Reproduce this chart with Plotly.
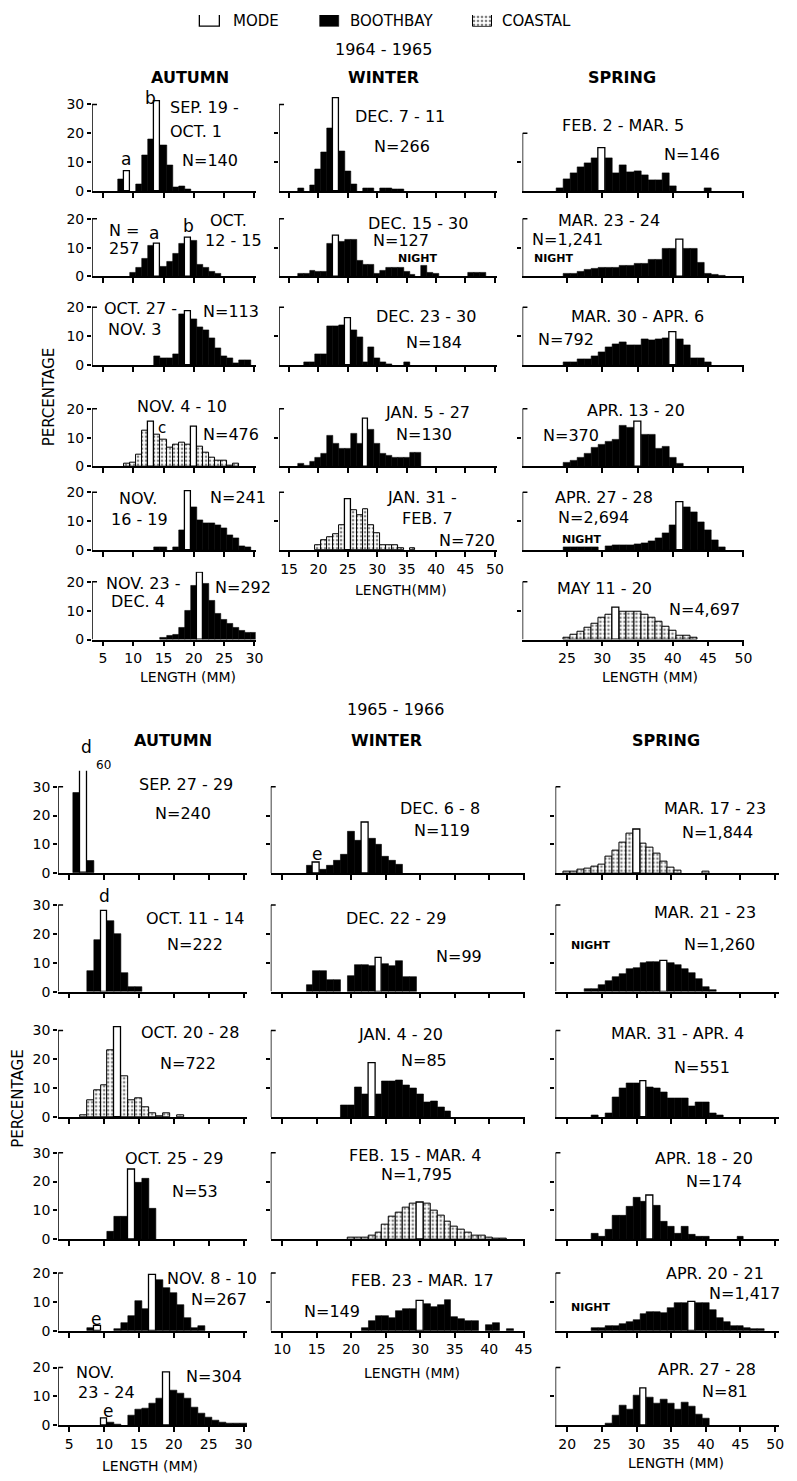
import plotly.graph_objects as go

W, H = 797, 1481
FONT = "DejaVu Sans"
PPP = 2.9  # pixels per percent

# ---------------- DATA (length class in mm, percentage) ----------------
# 1964-1965 autumn
A1_BINS = [8, 9, 11, 12, 13, 14, 15, 16, 17, 18, 19]
A1_PCT = [4.0, 6.8, 2.3, 12.5, 17.8, 31.0, 15.9, 8.9, 1.1, 1.5, 0.6]
A1_MODE = [9, 14]
A2_BINS = [10, 11, 12, 13, 14, 15, 16, 17, 18, 19, 20, 21, 22, 23, 24]
A2_PCT = [1.4, 3.0, 6.0, 10.8, 11.5, 3.5, 5.0, 8.0, 11.5, 13.5, 12.5, 4.0, 3.0, 1.7, 0.8]
A2_MODE = [14, 19]
A3_BINS = [14, 15, 16, 17, 18, 19, 20, 21, 22, 23, 24, 25, 26, 27, 28, 29]
A3_PCT = [3.0, 2.5, 2.5, 3.8, 17.6, 18.8, 15.9, 13.0, 12.0, 9.4, 5.9, 3.0, 2.5, 0.5, 1.8, 1.5]
A3_MODE = [19]
A4_BINS = [9, 10, 11, 12, 13, 14, 15, 16, 17, 18, 19, 20, 21, 22, 23, 24, 25, 26, 27]
A4_PCT = [0.8, 1.4, 4.2, 12.3, 15.5, 11.0, 9.3, 6.4, 7.6, 8.1, 7.6, 13.8, 7.0, 4.7, 3.0, 1.9, 1.9, 0.3, 1.0]
A4_MODE = [13, 20]
A5_BINS = [14, 15, 17, 18, 19, 20, 21, 22, 23, 24, 25, 26, 27, 28, 29]
A5_PCT = [0.8, 0.8, 1.0, 6.9, 20.5, 14.9, 10.3, 9.4, 9.4, 8.5, 7.5, 5.0, 4.0, 1.2, 0.8]
A5_MODE = [19]
A6_BINS = [15, 16, 17, 18, 19, 20, 21, 22, 23, 24, 25, 26, 27, 28, 29, 30]
A6_PCT = [0.5, 1.2, 1.5, 4.0, 10.0, 18.8, 23.0, 19.4, 13.3, 9.0, 7.0, 5.5, 4.0, 3.0, 2.5, 2.5]
A6_MODE = [21]
# 1964-1965 winter
W1_BINS = [17, 19, 20, 21, 22, 23, 24, 25, 26, 28, 29, 31, 32, 33, 34]
W1_PCT = [0.8, 1.9, 7.4, 13.4, 21.7, 32.0, 13.6, 6.8, 2.2, 0.8, 0.8, 0.8, 0.8, 0.4, 0.4]
W1_MODE = [23]
W2_BINS = [17, 18, 19, 20, 21, 22, 23, 24, 25, 26, 27, 28, 29, 30, 31, 32, 33, 34, 35, 36, 38, 39, 40, 46, 47, 48]
W2_PCT = [1.0, 1.0, 2.1, 1.6, 1.6, 11.3, 14.3, 12.2, 12.7, 12.7, 5.3, 4.2, 4.2, 1.0, 2.1, 3.2, 3.2, 3.2, 1.6, 0.7, 3.7, 1.4, 1.0, 1.3, 1.3, 1.3]
W2_MODE = [23]
W3_BINS = [18, 19, 20, 21, 22, 23, 24, 25, 26, 27, 28, 29, 30, 31, 32, 35]
W3_PCT = [1.1, 1.1, 3.9, 3.9, 13.6, 13.6, 13.9, 16.1, 12.2, 9.8, 1.1, 6.1, 2.2, 1.1, 0.3, 0.8]
W3_MODE = [25]
W4_BINS = [17, 18, 19, 20, 21, 22, 23, 24, 25, 26, 27, 28, 29, 30, 31, 32, 33, 34, 35, 36, 37]
W4_PCT = [1.1, 0.3, 1.7, 3.0, 4.4, 10.6, 8.0, 6.1, 6.1, 11.3, 7.8, 16.7, 12.8, 7.8, 4.5, 3.9, 3.1, 3.1, 3.1, 4.7, 4.7]
W4_MODE = [28]
W5_BINS = [20, 21, 22, 23, 24, 25, 26, 27, 28, 29, 30, 31, 32, 33, 34, 36]
W5_PCT = [1.7, 3.5, 4.6, 5.5, 8.6, 17.7, 13.7, 12.0, 14.3, 8.6, 5.7, 1.7, 1.7, 1.7, 0.6, 0.6]
W5_MODE = [25]
# 1964-1965 spring
S1_BINS = [24, 25, 26, 27, 28, 29, 30, 31, 32, 33, 34, 35, 36, 37, 38, 39, 40, 45]
S1_PCT = [0.8, 4.2, 6.3, 8.3, 9.7, 11.4, 14.9, 11.4, 6.3, 8.9, 6.5, 6.9, 5.4, 3.7, 3.7, 6.1, 1.5, 1.1]
S1_MODE = [30]
S2_BINS = [25, 26, 27, 28, 29, 30, 31, 32, 33, 34, 35, 36, 37, 38, 39, 40, 41, 42, 43, 44, 45, 46, 47]
S2_PCT = [0.8, 1.1, 1.6, 2.4, 2.7, 3.0, 3.0, 3.2, 3.6, 3.8, 4.3, 4.5, 5.9, 5.9, 9.7, 9.7, 12.7, 9.7, 9.7, 4.9, 1.1, 0.5, 0.3]
S2_MODE = [41]
S3_BINS = [25, 26, 27, 28, 29, 30, 31, 32, 33, 34, 35, 36, 37, 38, 39, 40, 41, 42, 43, 44, 45]
S3_PCT = [0.9, 0.9, 2.0, 2.0, 3.2, 4.5, 6.3, 7.2, 7.8, 7.0, 6.9, 9.1, 8.6, 8.8, 9.4, 11.2, 9.1, 6.9, 2.3, 2.3, 1.1]
S3_MODE = [40]
S4_BINS = [25, 26, 27, 28, 29, 30, 31, 32, 33, 34, 35, 36, 37, 38, 39, 40, 41]
S4_PCT = [1.2, 2.0, 3.2, 4.3, 6.6, 7.5, 8.5, 9.2, 14.2, 13.6, 15.7, 10.9, 10.9, 6.0, 7.0, 2.9, 0.8]
S4_MODE = [35]
S5_BINS = [25, 26, 27, 28, 29, 31, 32, 33, 34, 35, 36, 37, 38, 39, 40, 41, 42, 43, 44, 45, 46, 47]
S5_PCT = [0.8, 0.8, 0.8, 0.8, 0.8, 1.2, 1.5, 1.7, 1.8, 2.0, 2.3, 3.2, 4.0, 5.7, 8.6, 16.6, 14.9, 13.1, 9.7, 6.9, 3.4, 0.8]
S5_MODE = [41]
S6_BINS = [25, 26, 27, 28, 29, 30, 31, 32, 33, 34, 35, 36, 37, 38, 39, 40, 41, 42, 43]
S6_PCT = [0.6, 1.5, 2.7, 4.2, 5.5, 7.5, 8.7, 10.9, 9.5, 9.7, 9.7, 8.5, 7.5, 6.1, 4.6, 3.0, 1.2, 1.2, 0.5]
S6_MODE = [32]
# 1965-1966 autumn
BA1_BINS = [6, 7, 8]
BA1_PCT = [28.0, 60.0, 4.3]
BA1_MODE = [7]
BA2_BINS = [8, 9, 10, 11, 12, 13, 14, 15]
BA2_PCT = [7.0, 18.0, 28.0, 24.5, 20.0, 6.5, 1.5, 1.5]
BA2_MODE = [10]
BA3_BINS = [7, 8, 9, 10, 11, 12, 13, 14, 15, 16, 17, 18, 19, 21]
BA3_PCT = [0.6, 5.9, 9.4, 11.0, 23.0, 31.0, 14.1, 5.9, 6.5, 3.5, 1.4, 0.3, 1.2, 0.6]
BA3_MODE = [12]
BA4_BINS = [11, 12, 13, 14, 15, 16, 17]
BA4_PCT = [2.5, 7.9, 7.9, 24.0, 19.5, 21.0, 10.5]
BA4_MODE = [14]
BA5_BINS = [8, 9, 12, 13, 14, 15, 16, 17, 18, 19, 20, 21, 22, 23, 24]
BA5_PCT = [0.8, 1.7, 0.6, 2.6, 5.1, 10.3, 7.4, 19.4, 17.7, 15.0, 13.1, 9.1, 4.6, 1.1, 1.5]
BA5_MODE = [9, 17]
BA6_BINS = [10, 11, 12, 14, 15, 16, 17, 18, 19, 20, 21, 22, 23, 24, 25, 26, 27, 28, 29, 30]
BA6_PCT = [2.2, 0.8, 0.4, 3.3, 5.3, 5.8, 7.6, 9.4, 18.3, 12.0, 10.9, 9.4, 6.1, 4.1, 2.8, 1.7, 0.9, 0.6, 0.6, 0.6]
BA6_MODE = [10, 19]
# 1965-1966 winter
BW1_BINS = [14, 15, 16, 17, 18, 19, 20, 21, 22, 23, 24, 25, 26, 27]
BW1_PCT = [2.5, 3.6, 1.4, 2.5, 4.5, 6.3, 14.5, 11.2, 17.4, 12.0, 9.8, 5.8, 4.4, 3.1]
BW1_MODE = [15, 22]
BW2_BINS = [14, 15, 16, 17, 18, 20, 21, 22, 23, 24, 25, 26, 27, 28, 29]
BW2_PCT = [2.4, 7.1, 7.1, 3.9, 3.9, 5.3, 9.2, 9.2, 8.8, 11.7, 9.6, 8.8, 10.6, 5.0, 5.0]
BW2_MODE = [24]
BW3_BINS = [19, 20, 21, 22, 23, 24, 25, 26, 27, 28, 29, 30, 31, 32, 33, 34]
BW3_PCT = [4.2, 4.2, 10.3, 8.0, 18.7, 8.0, 12.4, 12.4, 12.8, 10.9, 10.0, 7.7, 5.2, 5.5, 3.4, 1.8]
BW3_MODE = [23]
BW4_BINS = [20, 21, 22, 23, 24, 25, 26, 27, 28, 29, 30, 31, 32, 33, 34, 35, 36, 37, 38, 39, 40, 41, 42]
BW4_PCT = [0.4, 0.5, 0.6, 1.1, 2.2, 5.1, 7.9, 9.4, 11.1, 12.2, 12.8, 12.2, 10.0, 8.3, 6.0, 4.3, 3.2, 2.3, 1.1, 1.1, 0.6, 0.3, 0.3]
BW4_MODE = [30]
BW5_BINS = [22, 23, 24, 25, 26, 27, 28, 29, 30, 31, 32, 33, 34, 35, 36, 37, 38, 40, 41, 43]
BW5_PCT = [1.1, 3.5, 5.0, 5.0, 4.4, 7.0, 7.6, 7.6, 10.4, 9.2, 8.2, 8.8, 10.6, 4.7, 4.1, 3.5, 3.5, 2.1, 2.6, 0.6]
BW5_MODE = [30]
# 1965-1966 spring
BS1_BINS = [20, 21, 22, 23, 24, 25, 26, 27, 28, 29, 30, 31, 32, 33, 34, 35, 36, 40]
BS1_PCT = [0.6, 0.6, 1.1, 1.7, 2.2, 3.0, 5.6, 7.8, 10.6, 13.9, 15.2, 10.3, 8.9, 6.7, 3.9, 1.9, 0.8, 0.6]
BS1_MODE = [30]
BS2_BINS = [23, 24, 25, 26, 27, 28, 29, 30, 31, 32, 33, 34, 35, 36, 37, 38, 39, 40, 41]
BS2_PCT = [0.9, 0.9, 2.2, 3.6, 5.0, 6.1, 7.8, 8.3, 10.0, 10.2, 10.2, 10.6, 10.0, 9.1, 8.0, 6.4, 4.4, 1.7, 0.6]
BS2_MODE = [34]
BS3_BINS = [24, 26, 27, 28, 29, 30, 31, 32, 33, 34, 35, 36, 37, 38, 39, 40, 41, 42]
BS3_PCT = [0.6, 1.1, 6.8, 10.0, 11.7, 11.7, 12.5, 10.3, 10.0, 8.6, 6.6, 6.6, 6.6, 3.8, 4.9, 4.9, 1.1, 0.6]
BS3_MODE = [31]
BS4_BINS = [24, 25, 26, 27, 28, 29, 30, 31, 32, 33, 34, 35, 36, 37, 38, 39, 40, 45]
BS4_PCT = [2.0, 0.9, 3.2, 8.3, 8.3, 11.2, 14.3, 12.9, 15.2, 11.7, 6.0, 4.3, 2.0, 4.3, 1.5, 0.9, 0.9, 0.9]
BS4_MODE = [32]
BS5_BINS = [24, 25, 26, 27, 28, 29, 30, 31, 32, 33, 34, 35, 36, 37, 38, 39, 40, 41, 42, 43, 44, 45, 46, 47, 48]
BS5_PCT = [0.9, 0.9, 1.7, 1.7, 2.5, 3.2, 3.7, 5.7, 6.6, 6.6, 6.0, 8.0, 9.7, 9.7, 10.0, 9.7, 9.7, 7.1, 4.6, 2.9, 1.7, 1.7, 0.9, 0.5, 0.5]
BS5_MODE = [38]
BS6_BINS = [26, 27, 28, 29, 30, 31, 32, 33, 34, 35, 36, 37, 38, 39, 40]
BS6_PCT = [0.5, 3.4, 7.0, 5.4, 10.2, 12.7, 9.7, 7.7, 9.1, 7.7, 5.6, 8.0, 6.5, 3.8, 2.2]
BS6_MODE = [31]

# ---------------- LAYOUT GEOMETRY (pixels) ----------------
COLS = {
    "ta": dict(ref_mm=5, ref_px=104, ppmm=6.12, xmin=3.2, xmax=30.2, ticks=[5, 10, 15, 20, 25, 30]),
    "tw": dict(ref_mm=15, ref_px=292, ppmm=5.94, xmin=13.3, xmax=50.3, ticks=[15, 20, 25, 30, 35, 40, 45, 50]),
    "ts": dict(ref_mm=25, ref_px=572.7, ppmm=7.13, xmin=18.7, xmax=50.1, ticks=[25, 30, 35, 40, 45, 50]),
    "ba": dict(ref_mm=5, ref_px=70, ppmm=7.04, xmin=3.4, xmax=30.5, ticks=[5, 10, 15, 20, 25, 30]),
    "bw": dict(ref_mm=10, ref_px=285, ppmm=6.97, xmin=8.35, xmax=45.2, ticks=[10, 15, 20, 25, 30, 35, 40, 45]),
    "bs": dict(ref_mm=20, ref_px=573, ppmm=7.0, xmin=18.3, xmax=50.5, ticks=[20, 25, 30, 35, 40, 45, 50]),
}

def P(bins, pct, mode, kind, col, base, top, ylab=False, xlab=False, head=3.5):
    return dict(bins=bins, pct=pct, mode=mode, kind=kind, col=col, base=base,
                top=top, ylab=ylab, xlab=xlab, head=head)

PANELS = [
    P(A1_BINS, A1_PCT, A1_MODE, "B", "ta", 192, 30, ylab=True),
    P(A2_BINS, A2_PCT, A2_MODE, "B", "ta", 278, 20, ylab=True),
    P(A3_BINS, A3_PCT, A3_MODE, "B", "ta", 367, 20, ylab=True),
    P(A4_BINS, A4_PCT, A4_MODE, "C", "ta", 469, 20, ylab=True),
    P(A5_BINS, A5_PCT, A5_MODE, "B", "ta", 553, 20, ylab=True),
    P(A6_BINS, A6_PCT, A6_MODE, "B", "ta", 643, 20, ylab=True, xlab=True),
    P(W1_BINS, W1_PCT, W1_MODE, "B", "tw", 192, 30),
    P(W2_BINS, W2_PCT, W2_MODE, "B", "tw", 278, 20),
    P(W3_BINS, W3_PCT, W3_MODE, "B", "tw", 367, 20),
    P(W4_BINS, W4_PCT, W4_MODE, "B", "tw", 469, 20),
    P(W5_BINS, W5_PCT, W5_MODE, "C", "tw", 553, 20, xlab=True),
    P(S1_BINS, S1_PCT, S1_MODE, "B", "ts", 192, 20),
    P(S2_BINS, S2_PCT, S2_MODE, "B", "ts", 278, 20),
    P(S3_BINS, S3_PCT, S3_MODE, "B", "ts", 367, 20),
    P(S4_BINS, S4_PCT, S4_MODE, "B", "ts", 469, 20),
    P(S5_BINS, S5_PCT, S5_MODE, "B", "ts", 553, 20),
    P(S6_BINS, S6_PCT, S6_MODE, "C", "ts", 643, 20, xlab=True),
    P(BA1_BINS, BA1_PCT, BA1_MODE, "B", "ba", 878, 30, ylab=True, head=5.5),
    P(BA2_BINS, BA2_PCT, BA2_MODE, "B", "ba", 997, 30, ylab=True),
    P(BA3_BINS, BA3_PCT, BA3_MODE, "C", "ba", 1123, 30, ylab=True),
    P(BA4_BINS, BA4_PCT, BA4_MODE, "B", "ba", 1246, 30, ylab=True),
    P(BA5_BINS, BA5_PCT, BA5_MODE, "B", "ba", 1338, 20, ylab=True),
    P(BA6_BINS, BA6_PCT, BA6_MODE, "B", "ba", 1433, 20, ylab=True, xlab=True),
    P(BW1_BINS, BW1_PCT, BW1_MODE, "B", "bw", 878, 30),
    P(BW2_BINS, BW2_PCT, BW2_MODE, "B", "bw", 997, 30),
    P(BW3_BINS, BW3_PCT, BW3_MODE, "B", "bw", 1123, 30),
    P(BW4_BINS, BW4_PCT, BW4_MODE, "C", "bw", 1246, 30),
    P(BW5_BINS, BW5_PCT, BW5_MODE, "B", "bw", 1338, 20, xlab=True),
    P(BS1_BINS, BS1_PCT, BS1_MODE, "C", "bs", 878, 30),
    P(BS2_BINS, BS2_PCT, BS2_MODE, "B", "bs", 997, 30),
    P(BS3_BINS, BS3_PCT, BS3_MODE, "B", "bs", 1123, 30),
    P(BS4_BINS, BS4_PCT, BS4_MODE, "B", "bs", 1246, 30),
    P(BS5_BINS, BS5_PCT, BS5_MODE, "B", "bs", 1338, 20),
    P(BS6_BINS, BS6_PCT, BS6_MODE, "B", "bs", 1433, 20, xlab=True),
]

F = 16  # panel text size
# text labels: (x px, y px, text, anchor, size, bold)
LABELS = [
    # legend & headers
    (233, 21, "MODE", "left", 15, False), (352, 21, "BOOTHBAY", "left", 15, False),
    (505, 21, "COASTAL", "left", 15, False),
    (387, 50, "1964 - 1965", "center", 16, False),
    (192, 78, "AUTUMN", "center", 16, True), (387, 78, "WINTER", "center", 16, True),
    (628, 78, "SPRING", "center", 16, True),
    (400, 713, "1965 - 1966", "center", 16, False),
    (175, 745, "AUTUMN", "center", 16, True), (390, 745, "WINTER", "center", 16, True),
    (673, 745, "SPRING", "center", 16, True),
    (190, 681, "LENGTH (MM)", "center", 14, False), (405, 593, "LENGTH(MM)", "center", 14, False),
    (657, 681, "LENGTH (MM)", "center", 14, False), (152, 1474, "LENGTH (MM)", "center", 14, False),
    (416, 1380, "LENGTH (MM)", "center", 14, False), (683, 1471, "LENGTH (MM)", "center", 14, False),
    # top autumn
    (170, 108, "SEP. 19 -", "left", F, False), (170, 132, "OCT. 1", "left", F, False),
    (182, 161, "N=140", "left", F, False), (127, 160, "a", "center", 17, False), (152, 99, "b", "center", 17, False),
    (108, 232, "N =", "left", F, False), (108, 250, "257", "left", F, False),
    (156, 234, "a", "center", 17, False), (190, 227, "b", "center", 17, False),
    (210, 222, "OCT.", "left", F, False), (205, 242, "12 - 15", "left", F, False),
    (103, 310, "OCT. 27 -", "left", F, False), (107, 331, "NOV. 3", "left", F, False),
    (203, 313, "N=113", "left", F, False),
    (184, 409, "NOV. 4 - 10", "center", F, False), (164, 430, "c", "center", 15, False),
    (203, 437, "N=476", "left", F, False),
    (118, 501, "NOV.", "left", F, False), (110, 522, "16 - 19", "left", F, False),
    (210, 500, "N=241", "left", F, False),
    (105, 587, "NOV. 23 -", "left", F, False), (110, 605, "DEC. 4", "left", F, False),
    (215, 591, "N=292", "left", F, False),
    # top winter
    (404, 117, "DEC. 7 - 11", "center", F, False), (406, 147, "N=266", "center", F, False),
    (422, 225, "DEC. 15 - 30", "center", F, False), (405, 242, "N=127", "center", F, False),
    (422, 260, "NIGHT", "center", 11, True),
    (430, 318, "DEC. 23 - 30", "center", F, False), (438, 344, "N=184", "center", F, False),
    (432, 415, "JAN. 5 - 27", "center", F, False), (428, 437, "N=130", "center", F, False),
    (426, 500, "JAN. 31 -", "center", F, False), (432, 521, "FEB. 7", "center", F, False),
    (472, 543, "N=720", "center", F, False),
    # top spring
    (629, 126, "FEB. 2 - MAR. 5", "center", F, False), (699, 155, "N=146", "center", F, False),
    (615, 222, "MAR. 23 - 24", "center", F, False), (535, 241, "N=1,241", "left", F, False),
    (537, 260, "NIGHT", "left", 11, True),
    (644, 318, "MAR. 30 - APR. 6", "center", F, False), (572, 341, "N=792", "center", F, False),
    (642, 413, "APR. 13 - 20", "center", F, False), (577, 438, "N=370", "center", F, False),
    (610, 500, "APR. 27 - 28", "center", F, False), (600, 520, "N=2,694", "center", F, False),
    (588, 542, "NIGHT", "center", 11, True),
    (611, 592, "MAY 11 - 20", "center", F, False), (712, 613, "N=4,697", "center", F, False),
    # bottom autumn
    (87, 751, "d", "center", 17, False), (105, 769, "60", "center", 12, False),
    (188, 789, "SEP. 27 - 29", "center", F, False), (185, 818, "N=240", "center", F, False),
    (106, 901, "d", "center", 17, False),
    (197, 923, "OCT. 11 - 14", "center", F, False), (197, 950, "N=222", "center", F, False),
    (192, 1038, "OCT. 20 - 28", "center", F, False), (190, 1069, "N=722", "center", F, False),
    (176, 1165, "OCT. 25 - 29", "center", F, False), (197, 1198, "N=53", "center", F, False),
    (214, 1285, "NOV. 8 - 10", "center", F, False), (221, 1307, "N=267", "center", F, False),
    (97, 1326, "e", "center", 17, False),
    (75, 1380, "NOV.", "left", F, False), (77, 1400, "23 - 24", "left", F, False),
    (109, 1419, "e", "center", 17, False), (216, 1384, "N=304", "center", F, False),
    # bottom winter
    (444, 813, "DEC. 6 - 8", "center", F, False), (446, 835, "N=119", "center", F, False),
    (320, 859, "e", "center", 17, False),
    (400, 923, "DEC. 22 - 29", "center", F, False), (464, 962, "N=99", "center", F, False),
    (405, 1040, "JAN. 4 - 20", "center", F, False), (428, 1066, "N=85", "center", F, False),
    (419, 1162, "FEB. 15 - MAR. 4", "center", F, False), (421, 1181, "N=1,795", "center", F, False),
    (427, 1287, "FEB. 23 - MAR. 17", "center", F, False), (335, 1319, "N=149", "center", F, False),
    # bottom spring
    (722, 813, "MAR. 17 - 23", "center", F, False), (725, 837, "N=1,844", "center", F, False),
    (712, 917, "MAR. 21 - 23", "center", F, False), (597, 951, "NIGHT", "center", 11, True),
    (727, 950, "N=1,260", "center", F, False),
    (684, 1039, "MAR. 31 - APR. 4", "center", F, False), (709, 1073, "N=551", "center", F, False),
    (711, 1165, "APR. 18 - 20", "center", F, False), (721, 1188, "N=174", "center", F, False),
    (722, 1280, "APR. 20 - 21", "center", F, False), (752, 1301, "N=1,417", "center", F, False),
    (597, 1315, "NIGHT", "center", 11, True),
    (714, 1377, "APR. 27 - 28", "center", F, False), (732, 1399, "N=81", "center", F, False),
]

# ---------------- BUILD ----------------
def X(px):
    return px / W

def Y(py):
    return 1 - py / H

BLACK = dict(color="black", line=dict(color="black", width=0.6))
WHITE = dict(color="white", line=dict(color="black", width=1.3))
STIPPLE = dict(color="white", line=dict(color="black", width=1.0),
               pattern=dict(shape=".", fgcolor="black", bgcolor="white", size=4, solidity=0.35))

fig = go.Figure()
layout = {}
shapes = []
anns = []

for i, p in enumerate(PANELS, start=1):
    c = COLS[p["col"]]
    x0 = c["ref_px"] + (c["xmin"] - c["ref_mm"]) * c["ppmm"]
    x1 = c["ref_px"] + (c["xmax"] - c["ref_mm"]) * c["ppmm"]
    ytop = p["top"] + p["head"]
    y_top_px = p["base"] - ytop * PPP
    sfx = "" if i == 1 else str(i)
    xr, yr = "x" + sfx, "y" + sfx
    layout["xaxis" + sfx] = dict(
        domain=[X(x0), X(x1)], range=[c["xmin"], c["xmax"]], anchor=yr,
        showline=True, linecolor="black", linewidth=1.5, ticks="outside", ticklen=5,
        tickwidth=1.5, tickcolor="black", tickmode="array", tickvals=c["ticks"],
        showticklabels=p["xlab"], tickfont=dict(family=FONT, size=14, color="black"),
        showgrid=False, zeroline=False, fixedrange=True)
    if p["ylab"]:
        yt = [0, 10, 20] + ([30] if p["top"] == 30 else [])
    else:
        yt = [10, 20] if p["top"] == 30 else [10]
    layout["yaxis" + sfx] = dict(
        domain=[Y(p["base"]), Y(y_top_px)], range=[0, ytop], anchor=xr,
        showline=False, ticks="outside", ticklen=4, tickwidth=1.5, tickcolor="black",
        tickmode="array", tickvals=yt, ticktext=[str(v) for v in yt],
        showticklabels=p["ylab"], tickfont=dict(family=FONT, size=14, color="black"),
        showgrid=False, zeroline=False, fixedrange=True)
    # y axis line with bracket on top
    shapes.append(dict(type="line", xref=xr, yref=yr, x0=c["xmin"], x1=c["xmin"],
                       y0=0, y1=p["top"], line=dict(color="black", width=1.5)))
    shapes.append(dict(type="line", xref=xr, yref=yr, x0=c["xmin"],
                       x1=c["xmin"] + 5.0 / c["ppmm"], y0=p["top"], y1=p["top"],
                       line=dict(color="black", width=1.5)))
    nb_x = [b for b in p["bins"] if b not in p["mode"]]
    nb_y = [v for b, v in zip(p["bins"], p["pct"]) if b not in p["mode"]]
    md_x = [b for b in p["bins"] if b in p["mode"]]
    md_y = [v for b, v in zip(p["bins"], p["pct"]) if b in p["mode"]]
    fig.add_trace(go.Bar(x=nb_x, y=nb_y, width=1, xaxis=xr, yaxis=yr,
                         marker=(BLACK if p["kind"] == "B" else STIPPLE),
                         showlegend=False, hoverinfo="skip"))
    fig.add_trace(go.Bar(x=md_x, y=md_y, width=1, xaxis=xr, yaxis=yr, marker=WHITE,
                         showlegend=False, hoverinfo="skip"))

# legend boxes on a pixel-scaled helper axis
n = len(PANELS) + 1
LEG_X = [212, 332.5, 487.5]
LEG_W = [20, 19, 19]
layout["xaxis%d" % n] = dict(domain=[0, 1], range=[0, W], visible=False, anchor="y%d" % n, fixedrange=True)
layout["yaxis%d" % n] = dict(domain=[Y(27), Y(15)], range=[0, 1], visible=False, anchor="x%d" % n, fixedrange=True)
for k, mk in enumerate([WHITE, BLACK, STIPPLE]):
    fig.add_trace(go.Bar(x=[LEG_X[k]], y=[1], width=[LEG_W[k]], xaxis="x%d" % n, yaxis="y%d" % n,
                         marker=mk, showlegend=False, hoverinfo="skip"))

for (x, y, s, anc, size, bold) in LABELS:
    anns.append(dict(x=X(x), y=Y(y), xref="paper", yref="paper", showarrow=False,
                     text=("<b>%s</b>" % s) if bold else s, xanchor=anc, yanchor="middle",
                     font=dict(family=FONT, size=size, color="black")))
for (x, y) in [(49, 400), (18, 1105)]:
    anns.append(dict(x=X(x), y=Y(y), xref="paper", yref="paper", showarrow=False,
                     text="PERCENTAGE", textangle=-90, xanchor="center", yanchor="middle",
                     font=dict(family=FONT, size=15, color="black")))

fig.update_layout(width=W, height=H, margin=dict(l=0, r=0, t=0, b=0),
                  paper_bgcolor="white", plot_bgcolor="white",
                  barmode="overlay", bargap=0, showlegend=False,
                  font=dict(family=FONT, color="black"),
                  shapes=shapes, annotations=anns, **layout)

fig.write_html("out.html")
